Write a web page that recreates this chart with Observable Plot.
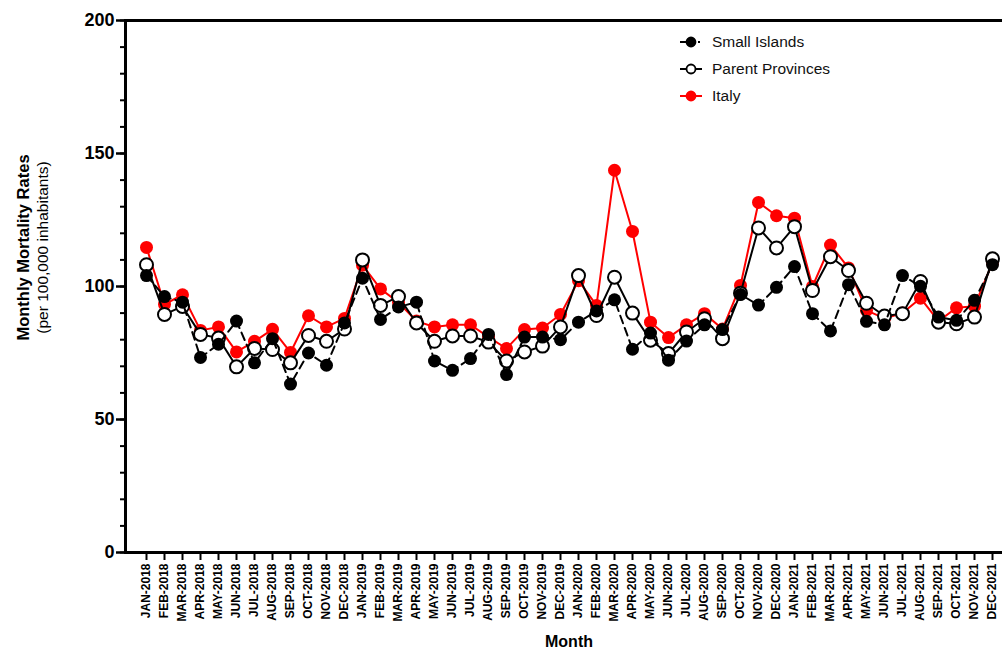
<!DOCTYPE html>
<html>
<head>
<meta charset="utf-8">
<script src="https://cdn.jsdelivr.net/npm/d3@7"></script>
<script src="https://cdn.jsdelivr.net/npm/@observablehq/plot@0.6"></script>
<style>
  html, body { margin: 0; padding: 0; background: #fff; overflow: hidden; }
  #wrap { position: relative; width: 1012px; height: 648px; }
  #legend {
    position: absolute; left: 678px; top: 29px;
    font-family: "Liberation Sans", Arial, sans-serif; font-size: 15.5px; color: #111;
  }
  #legend .row { display: flex; align-items: center; height: 26.7px; }
  #legend svg { width: 30px; height: 20px; margin-right: 4px; }
</style>
</head>
<body>
<div id="wrap">
  <div id="chart"></div>
  <div id="legend"></div>
</div>
<script>
const months = [
  "JAN-2018","FEB-2018","MAR-2018","APR-2018","MAY-2018","JUN-2018","JUL-2018","AUG-2018","SEP-2018","OCT-2018","NOV-2018","DEC-2018",
  "JAN-2019","FEB-2019","MAR-2019","APR-2019","MAY-2019","JUN-2019","JUL-2019","AUG-2019","SEP-2019","OCT-2019","NOV-2019","DEC-2019",
  "JAN-2020","FEB-2020","MAR-2020","APR-2020","MAY-2020","JUN-2020","JUL-2020","AUG-2020","SEP-2020","OCT-2020","NOV-2020","DEC-2020",
  "JAN-2021","FEB-2021","MAR-2021","APR-2021","MAY-2021","JUN-2021","JUL-2021","AUG-2021","SEP-2021","OCT-2021","NOV-2021","DEC-2021"
];

// Monthly mortality rates per 100,000 inhabitants
const smallIslands = [
  104.1, 96.2, 94.1, 73.3, 78.3, 87.0, 71.3, 80.4, 63.3, 75.0, 70.4, 86.3,
  103.1, 87.6, 92.3, 94.1, 72.0, 68.5, 72.9, 82.0, 66.9, 81.0, 81.0, 80.0,
  86.6, 90.8, 95.0, 76.4, 82.5, 72.3, 79.5, 85.6, 83.8, 97.0, 93.0, 99.7,
  107.5, 89.8, 83.3, 100.7, 86.9, 85.6, 104.1, 100.1, 88.5, 87.3, 94.8, 108.2
];
const parentProvinces = [
  108.2, 89.5, 92.5, 82.0, 80.6, 69.8, 76.7, 76.3, 71.3, 81.6, 79.4, 84.0,
  110.0, 92.9, 96.2, 86.3, 79.4, 81.4, 81.4, 79.1, 72.0, 75.4, 77.6, 84.8,
  104.1, 89.1, 103.5, 90.0, 79.8, 74.8, 82.9, 87.9, 80.4, 97.5, 122.0, 114.5,
  122.5, 98.5, 111.2, 106.0, 93.7, 88.9, 89.8, 101.9, 86.6, 86.0, 88.5, 110.4
];
const italy = [
  114.7, 93.3, 96.9, 83.5, 84.8, 75.4, 79.4, 83.9, 75.2, 89.0, 84.8, 88.0,
  108.0, 99.1, 94.0, 87.0, 84.8, 85.6, 85.6, 81.0, 76.7, 83.8, 84.4, 89.5,
  102.2, 92.9, 143.7, 120.7, 86.6, 80.8, 85.6, 89.8, 84.0, 100.4, 131.6, 126.6,
  125.7, 100.0, 115.6, 107.0, 91.0, 88.0, 90.0, 95.6, 87.0, 92.0, 92.6, 109.0
];

const yMajorTicks = [0, 50, 100, 150, 200];
const yMinorTicks = d3.range(0, 201, 10);

const rows = (values) => months.map((month, i) => ({month, value: values[i]}));
const islandsRows = rows(smallIslands);
const parentRows = rows(parentProvinces);
const italyRows = rows(italy);

const font = "'Liberation Sans', Arial, Helvetica, sans-serif";

const chart = Plot.plot({
  width: 1012,
  height: 648,
  marginTop: 20,
  marginBottom: 96,
  marginLeft: 125,
  marginRight: 0,
  style: {fontFamily: font, background: "#fff", color: "#000", maxWidth: "none", overflow: "visible"},
  x: {type: "point", domain: months, range: [142, 995], padding: 0},
  y: {domain: [0, 200]},
  marks: [
    // axes
    Plot.axisY(yMinorTicks, {tickSize: 5, strokeWidth: 2, tickFormat: () => "", label: null}),
    Plot.axisY(yMajorTicks, {tickSize: 9, strokeWidth: 2.5, tickPadding: 2, fontSize: 18, fontWeight: "bold", label: null}),
    Plot.axisX(months, {tickSize: 8, strokeWidth: 2, tickRotate: -90, tickPadding: 3, fontSize: 12, fontWeight: "bold", label: null}),
    Plot.frame({stroke: "#000", strokeWidth: 3}),

    // Italy
    Plot.line(italyRows, {x: "month", y: "value", stroke: "#ff0000", strokeWidth: 2}),
    Plot.dot(italyRows, {x: "month", y: "value", r: 6.5, fill: "#ff0000"}),

    // Parent provinces
    Plot.line(parentRows, {x: "month", y: "value", stroke: "#000", strokeWidth: 2}),
    Plot.dot(parentRows, {x: "month", y: "value", r: 6.5, fill: "#fff", stroke: "#000", strokeWidth: 2}),

    // Small islands
    Plot.line(islandsRows, {x: "month", y: "value", stroke: "#000", strokeWidth: 2, strokeDasharray: "8,5"}),
    Plot.dot(islandsRows, {x: "month", y: "value", r: 6.5, fill: "#000"}),

    // axis titles
    Plot.text(["Monthly Mortality Rates"], {frameAnchor: "left", rotate: -90, dx: -97, dy: -39, lineAnchor: "bottom", textAnchor: "middle", fontSize: 16.5, fontWeight: "bold", fill: "#000"}),
    Plot.text(["(per 100,000 inhabitants)"], {frameAnchor: "left", rotate: -90, dx: -78, dy: -39, lineAnchor: "bottom", textAnchor: "middle", fontSize: 15.5, fill: "#000"}),
    Plot.text(["Month"], {frameAnchor: "bottom", dy: 94, lineAnchor: "bottom", textAnchor: "middle", fontSize: 16, fontWeight: "bold", fill: "#000"})
  ]
});
document.getElementById("chart").appendChild(chart);

// legend
const legendItems = [
  {label: "Small Islands", color: "#000", fill: "#000", dash: "15,3,2,3"},
  {label: "Parent Provinces", color: "#000", fill: "#fff", dash: null},
  {label: "Italy", color: "#ff0000", fill: "#ff0000", dash: null}
];
const legend = d3.select("#legend");
for (const item of legendItems) {
  const row = legend.append("div").attr("class", "row");
  const svg = row.append("svg").attr("viewBox", "0 0 30 20");
  svg.append("line")
    .attr("x1", 2).attr("x2", 24).attr("y1", 10).attr("y2", 10)
    .attr("stroke", item.color).attr("stroke-width", 2)
    .attr("stroke-dasharray", item.dash);
  svg.append("circle")
    .attr("cx", 13).attr("cy", 10).attr("r", 4.5)
    .attr("fill", item.fill).attr("stroke", item.color).attr("stroke-width", 1.8);
  row.append("span").text(item.label);
}
</script>
</body>
</html>
